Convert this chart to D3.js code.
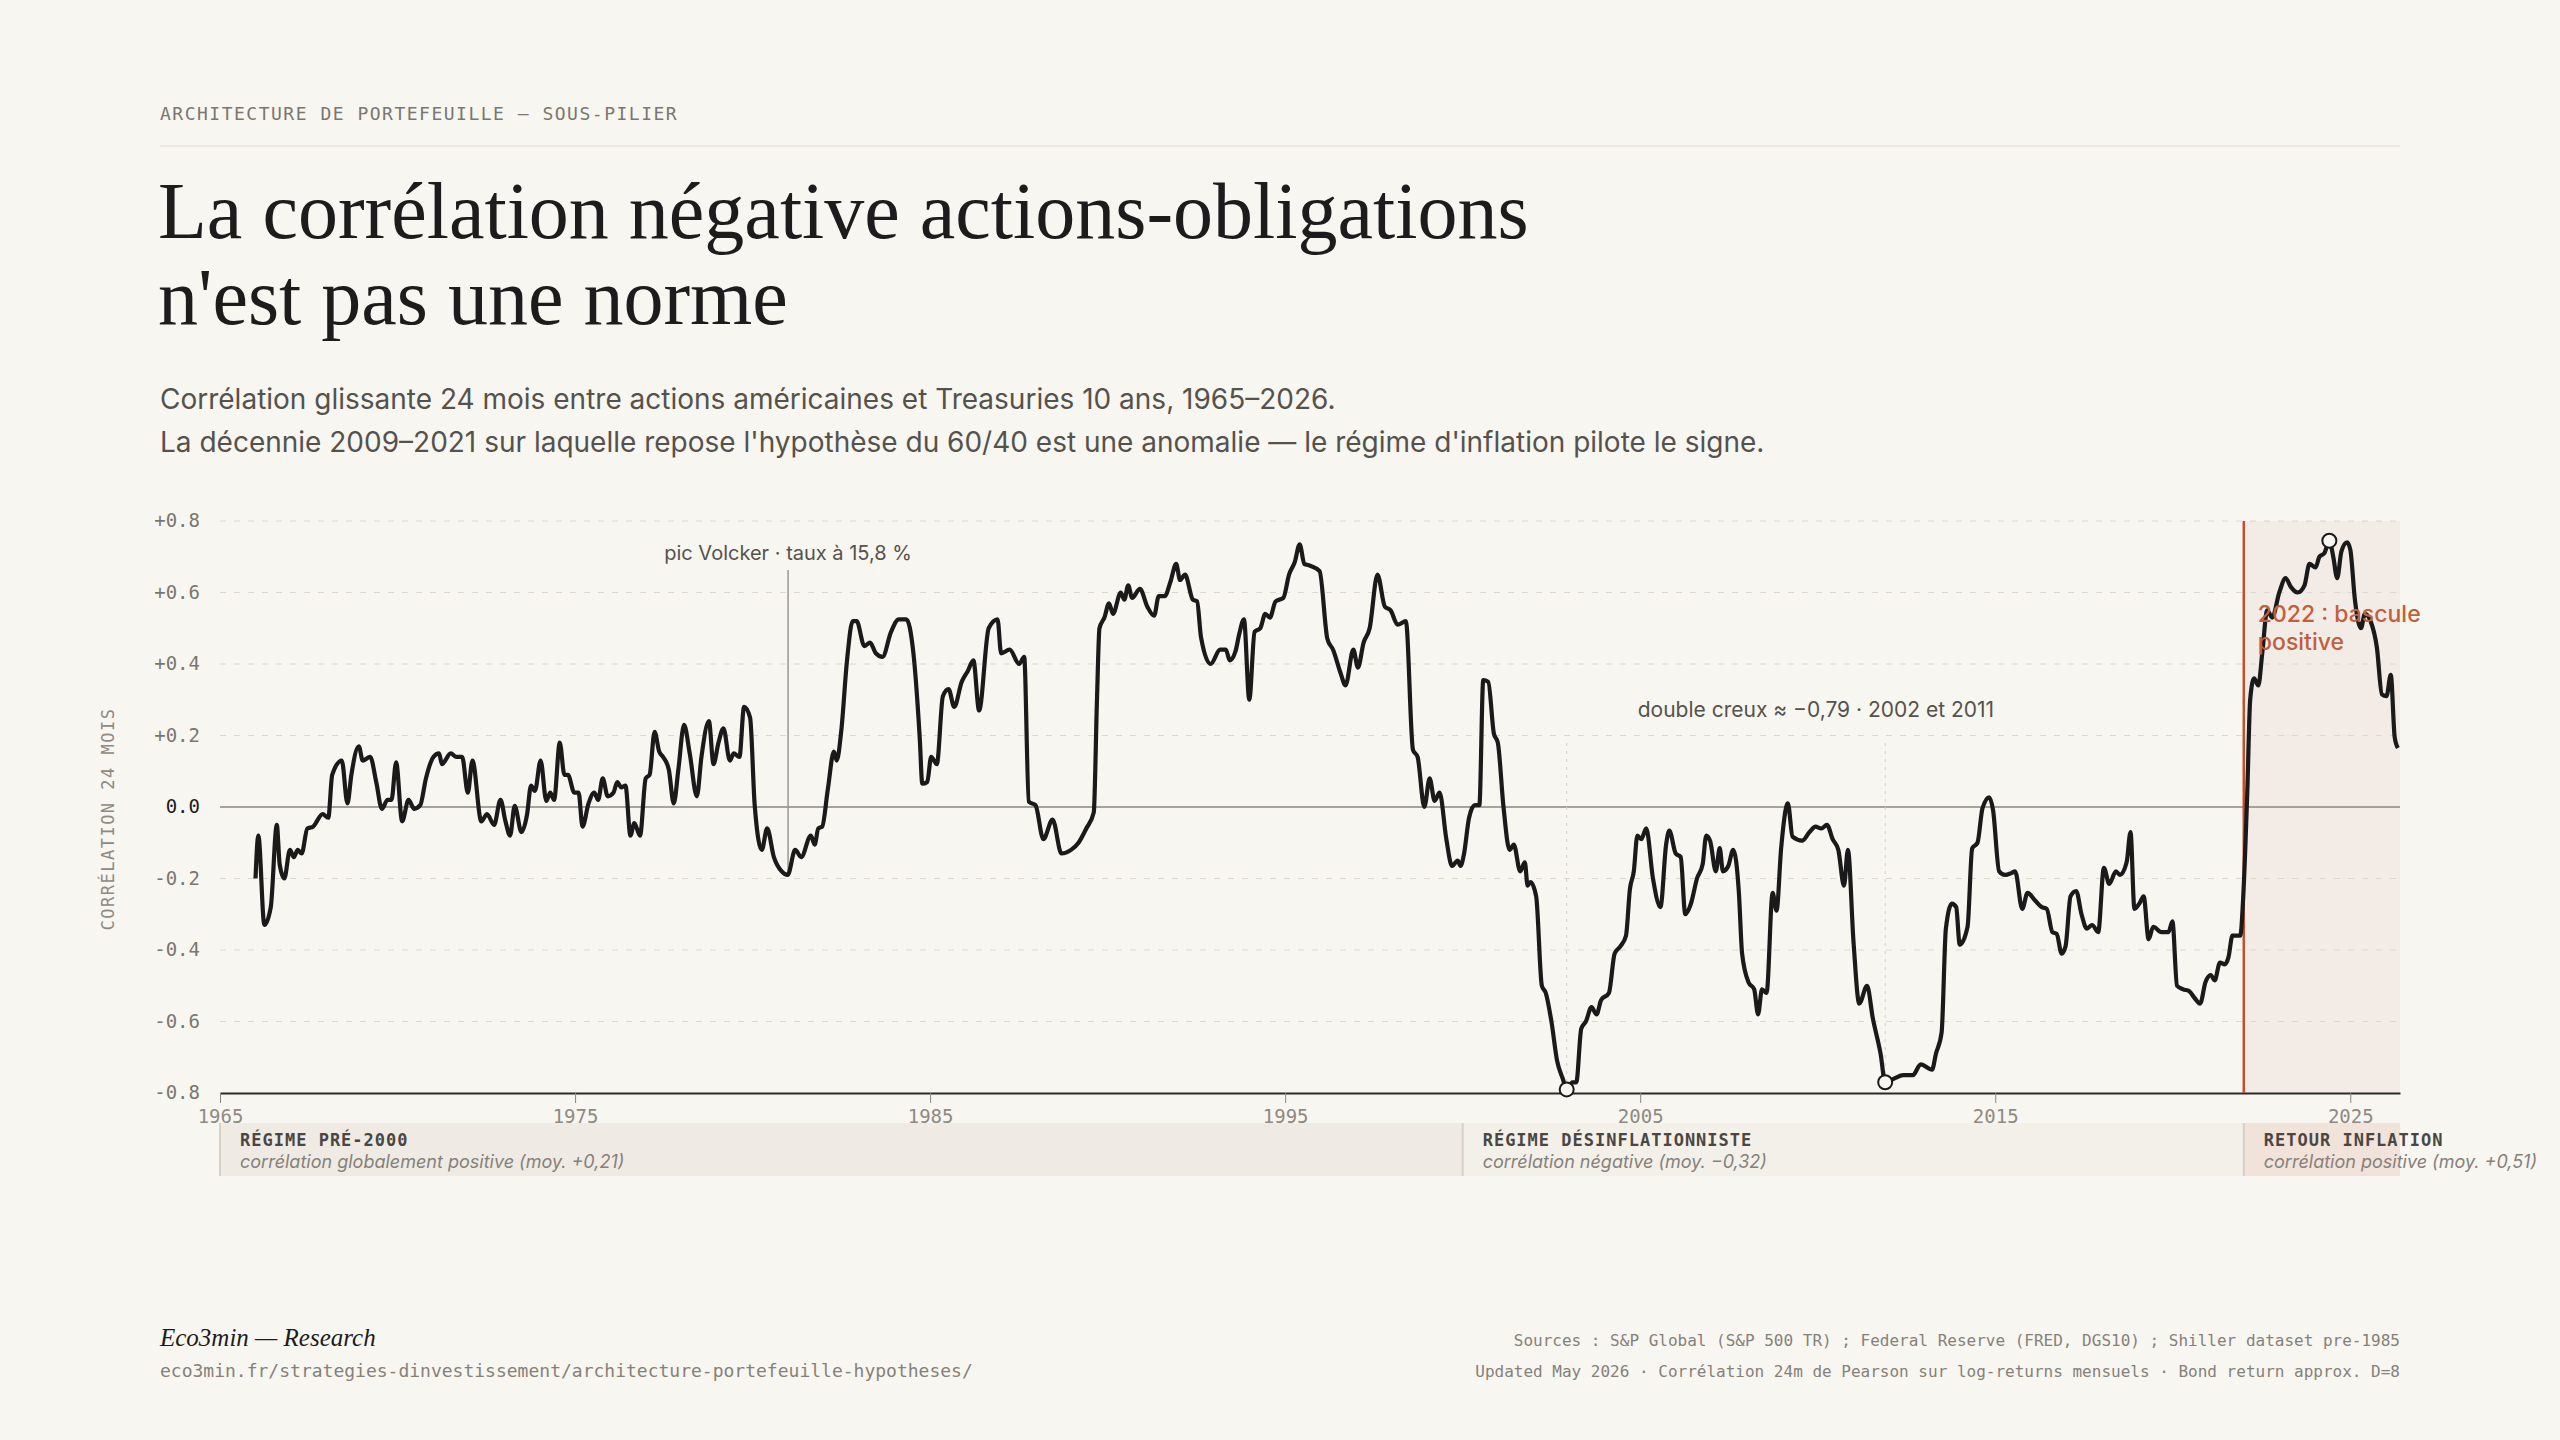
<!DOCTYPE html>
<html lang="fr">
<head>
<meta charset="UTF-8">
<title>Corrélation actions-obligations</title>
<script src="https://d3js.org/d3.v7.min.js"></script>
<style>
  html, body { margin: 0; padding: 0; background: #f8f6f0; }
  svg { display: block; }
</style>
</head>
<body>
<svg id="chart" width="2560" height="1440"></svg>
<script>
// Series (year, 24m rolling correlation)
const corr = [
  [1966.0,-0.20],[1966.08,-0.08],[1966.25,-0.33],[1966.43,-0.28],[1966.6,-0.05],[1966.68,-0.16],[1966.81,-0.20],
  [1966.97,-0.12],[1967.08,-0.14],[1967.19,-0.12],[1967.3,-0.13],[1967.46,-0.06],[1967.62,-0.055],[1967.89,-0.02],
  [1968.05,-0.03],[1968.16,0.09],[1968.43,0.13],[1968.59,0.01],[1968.7,0.09],[1968.91,0.17],[1969.02,0.13],
  [1969.23,0.14],[1969.4,0.07],[1969.56,-0.005],[1969.72,0.02],[1969.83,0.02],[1969.96,0.125],[1970.13,-0.04],
  [1970.31,0.02],[1970.47,-0.005],[1970.64,0.005],[1970.8,0.08],[1971.01,0.14],[1971.17,0.15],[1971.25,0.12],
  [1971.5,0.15],[1971.66,0.14],[1971.82,0.14],[1971.98,0.04],[1972.11,0.13],[1972.36,-0.04],[1972.52,-0.02],
  [1972.72,-0.05],[1972.9,0.02],[1973.04,-0.04],[1973.17,-0.08],[1973.3,0.003],[1973.49,-0.07],[1973.65,-0.02],
  [1973.76,0.06],[1973.87,0.045],[1974.03,0.13],[1974.19,0.017],[1974.3,0.04],[1974.41,0.02],[1974.57,0.18],
  [1974.7,0.09],[1974.8,0.09],[1974.98,0.04],[1975.1,0.04],[1975.21,-0.055],[1975.38,0.01],[1975.54,0.04],
  [1975.65,0.02],[1975.78,0.08],[1975.92,0.03],[1976.08,0.04],[1976.19,0.07],[1976.3,0.055],[1976.42,0.06],
  [1976.56,-0.08],[1976.67,-0.045],[1976.83,-0.08],[1976.99,0.08],[1977.1,0.09],[1977.24,0.21],[1977.37,0.155],
  [1977.48,0.14],[1977.64,0.105],[1977.78,0.01],[1977.91,0.105],[1978.07,0.23],[1978.23,0.15],[1978.43,0.03],
  [1978.56,0.14],[1978.77,0.24],[1978.9,0.12],[1979.04,0.18],[1979.18,0.22],[1979.36,0.13],[1979.47,0.15],
  [1979.63,0.14],[1979.76,0.28],[1979.93,0.25],[1980.06,0.005],[1980.26,-0.12],[1980.41,-0.06],[1980.6,-0.14],
  [1980.82,-0.18],[1980.99,-0.19],[1981.2,-0.12],[1981.37,-0.14],[1981.64,-0.08],[1981.75,-0.105],[1981.85,-0.06],
  [1981.96,-0.055],[1982.12,0.05],[1982.29,0.155],[1982.37,0.13],[1982.5,0.215],[1982.66,0.41],[1982.82,0.52],
  [1982.93,0.52],[1983.15,0.45],[1983.31,0.46],[1983.47,0.43],[1983.66,0.42],[1983.9,0.49],[1984.12,0.525],
  [1984.33,0.525],[1984.53,0.43],[1984.71,0.19],[1984.78,0.065],[1984.92,0.07],[1985.03,0.14],[1985.19,0.12],
  [1985.36,0.31],[1985.52,0.33],[1985.68,0.28],[1985.89,0.35],[1986.06,0.38],[1986.22,0.41],[1986.38,0.27],
  [1986.65,0.50],[1986.9,0.525],[1987.0,0.43],[1987.24,0.44],[1987.51,0.40],[1987.65,0.42],[1987.78,0.015],
  [1987.97,0.005],[1988.19,-0.09],[1988.45,-0.035],[1988.7,-0.13],[1988.97,-0.12],[1989.18,-0.10],[1989.4,-0.06],
  [1989.61,-0.015],[1989.7,0.30],[1989.77,0.50],[1989.91,0.53],[1990.04,0.57],[1990.15,0.54],[1990.37,0.60],
  [1990.47,0.58],[1990.58,0.62],[1990.69,0.585],[1990.91,0.61],[1991.12,0.56],[1991.31,0.535],[1991.44,0.59],
  [1991.61,0.59],[1991.77,0.63],[1991.93,0.68],[1992.04,0.635],[1992.18,0.65],[1992.4,0.58],[1992.52,0.575],
  [1992.63,0.475],[1992.9,0.40],[1993.17,0.44],[1993.33,0.44],[1993.44,0.41],[1993.6,0.435],[1993.71,0.485],
  [1993.84,0.525],[1993.99,0.30],[1994.14,0.49],[1994.3,0.50],[1994.44,0.54],[1994.57,0.53],[1994.73,0.575],
  [1994.95,0.585],[1995.11,0.65],[1995.27,0.685],[1995.41,0.735],[1995.54,0.68],[1995.7,0.675],[1995.97,0.66],
  [1996.19,0.47],[1996.35,0.44],[1996.56,0.375],[1996.7,0.34],[1996.92,0.44],[1997.05,0.39],[1997.21,0.46],
  [1997.38,0.50],[1997.6,0.65],[1997.81,0.56],[1997.97,0.55],[1998.17,0.51],[1998.4,0.52],[1998.6,0.16],
  [1998.73,0.14],[1998.92,0.0],[1999.07,0.08],[1999.21,0.017],[1999.35,0.04],[1999.54,-0.09],[1999.7,-0.165],
  [1999.86,-0.15],[1999.94,-0.165],[2000.04,-0.13],[2000.18,-0.03],[2000.34,0.005],[2000.47,0.005],[2000.58,0.355],
  [2000.72,0.35],[2000.88,0.205],[2000.99,0.18],[2001.15,0.0],[2001.32,-0.12],[2001.44,-0.105],[2001.62,-0.18],
  [2001.75,-0.155],[2001.83,-0.22],[2001.91,-0.21],[2002.07,-0.25],[2002.23,-0.50],[2002.34,-0.52],[2002.5,-0.60],
  [2002.66,-0.71],[2002.82,-0.76],[2002.93,-0.79],[2003.09,-0.77],[2003.2,-0.77],[2003.34,-0.62],[2003.47,-0.60],
  [2003.63,-0.56],[2003.77,-0.58],[2003.9,-0.54],[2004.12,-0.52],[2004.28,-0.41],[2004.44,-0.39],[2004.6,-0.36],
  [2004.71,-0.23],[2004.82,-0.18],[2004.92,-0.08],[2005.03,-0.09],[2005.17,-0.06],[2005.36,-0.20],[2005.57,-0.28],
  [2005.73,-0.105],[2005.82,-0.066],[2006.0,-0.13],[2006.14,-0.14],[2006.27,-0.30],[2006.43,-0.27],[2006.6,-0.20],
  [2006.76,-0.16],[2006.86,-0.08],[2006.97,-0.095],[2007.13,-0.18],[2007.24,-0.115],[2007.33,-0.18],[2007.48,-0.165],
  [2007.62,-0.12],[2007.78,-0.24],[2007.87,-0.41],[2008.05,-0.49],[2008.21,-0.51],[2008.32,-0.58],[2008.43,-0.51],
  [2008.56,-0.52],[2008.73,-0.24],[2008.84,-0.29],[2008.97,-0.115],[2009.16,0.01],[2009.29,-0.083],[2009.56,-0.094],
  [2009.77,-0.07],[2009.94,-0.055],[2010.1,-0.06],[2010.26,-0.05],[2010.42,-0.09],[2010.58,-0.12],[2010.74,-0.22],
  [2010.85,-0.12],[2011.01,-0.38],[2011.17,-0.55],[2011.39,-0.50],[2011.55,-0.59],[2011.77,-0.69],[2011.9,-0.77],
  [2012.14,-0.76],[2012.41,-0.75],[2012.68,-0.75],[2012.9,-0.72],[2013.22,-0.735],[2013.33,-0.69],[2013.49,-0.63],
  [2013.61,-0.34],[2013.78,-0.27],[2013.9,-0.28],[2014.0,-0.385],[2014.22,-0.335],[2014.35,-0.116],[2014.5,-0.10],
  [2014.64,-0.004],[2014.83,0.027],[2014.94,-0.01],[2015.11,-0.18],[2015.28,-0.19],[2015.45,-0.185],[2015.56,-0.18],
  [2015.76,-0.285],[2015.91,-0.24],[2016.11,-0.26],[2016.31,-0.28],[2016.45,-0.285],[2016.61,-0.35],[2016.73,-0.355],
  [2016.87,-0.41],[2016.98,-0.39],[2017.12,-0.25],[2017.28,-0.235],[2017.43,-0.30],[2017.58,-0.34],[2017.73,-0.33],
  [2017.9,-0.35],[2018.06,-0.17],[2018.21,-0.215],[2018.4,-0.18],[2018.51,-0.19],[2018.7,-0.155],[2018.81,-0.07],
  [2018.92,-0.285],[2019.06,-0.27],[2019.18,-0.25],[2019.32,-0.37],[2019.45,-0.335],[2019.68,-0.35],[2019.88,-0.35],
  [2019.99,-0.32],[2020.12,-0.50],[2020.29,-0.51],[2020.46,-0.515],[2020.62,-0.535],[2020.77,-0.55],[2020.92,-0.49],
  [2021.07,-0.47],[2021.18,-0.485],[2021.33,-0.435],[2021.46,-0.44],[2021.57,-0.42],[2021.68,-0.36],[2021.9,-0.36],
  [2021.99,-0.24],[2022.1,0.046],[2022.18,0.30],[2022.29,0.36],[2022.41,0.34],[2022.52,0.43],[2022.66,0.55],
  [2022.8,0.53],[2023.0,0.60],[2023.18,0.64],[2023.33,0.615],[2023.52,0.60],[2023.71,0.62],[2023.85,0.68],
  [2024.02,0.67],[2024.13,0.70],[2024.27,0.71],[2024.41,0.745],[2024.52,0.70],[2024.63,0.64],[2024.75,0.715],
  [2024.91,0.74],[2025.0,0.72],[2025.13,0.58],[2025.3,0.50],[2025.41,0.54],[2025.57,0.52],[2025.75,0.445],
  [2025.89,0.315],[2026.02,0.31],[2026.14,0.37],[2026.25,0.196],[2026.34,0.165]
];
const markers = [[2002.93,-0.79],[2011.9,-0.77],[2024.41,0.745]];
const yTicks = [-0.8,-0.6,-0.4,-0.2,0,0.2,0.4,0.6,0.8];
const xTicks = [1965,1975,1985,1995,2005,2015,2025];
const regimes = [
  {from:1965, to:2000, name:"RÉGIME PRÉ-2000", sub:"corrélation globalement positive (moy. +0,21)", fill:"#efebe4"},
  {from:2000, to:2022, name:"RÉGIME DÉSINFLATIONNISTE", sub:"corrélation négative (moy. −0,32)", fill:"#f3f0ea"},
  {from:2022, to:2026.4, name:"RETOUR INFLATION", sub:"corrélation positive (moy. +0,51)", fill:"#f1e2da"}
];

const W = 2560;
const margin = {left:220, right:160, top:521, bottom:347};
const svg = d3.select("#chart");
const mono = "'DejaVu Sans Mono', 'Liberation Mono', monospace";
const sans = "Inter, 'Noto Sans', sans-serif";
const serif = "'Liberation Serif', 'DejaVu Serif', serif";

const x = d3.scaleLinear().domain([1965, 2026.4]).range([margin.left, W - margin.right]);
const y = d3.scaleLinear().domain([-0.8, 0.8]).range([1093, margin.top]);

// header
svg.append("text").attr("x",160).attr("y",120).attr("font-family",mono).attr("font-size",18)
  .attr("letter-spacing",1.5).attr("fill","#7a7670").text("ARCHITECTURE DE PORTEFEUILLE — SOUS-PILIER");
svg.append("line").attr("x1",160).attr("x2",2400).attr("y1",146).attr("y2",146).attr("stroke","#dedad2");
["La corrélation négative actions-obligations","n'est pas une norme"].forEach((t,i) =>
  svg.append("text").attr("x",158).attr("y",238+i*86).attr("font-family",serif).attr("font-size",80)
    .attr("fill","#1c1c1c").text(t));
["Corrélation glissante 24 mois entre actions américaines et Treasuries 10 ans, 1965–2026.",
 "La décennie 2009–2021 sur laquelle repose l'hypothèse du 60/40 est une anomalie — le régime d'inflation pilote le signe."]
  .forEach((t,i) => svg.append("text").attr("x",160).attr("y",409+i*43).attr("font-family",sans)
    .attr("font-size",28).attr("fill","#55524d").text(t));

// inflation shading
svg.append("rect").attr("x",x(2022)).attr("y",margin.top).attr("width",x(2026.4)-x(2022))
  .attr("height",y(-0.8)-margin.top).attr("fill","#f3ebe5");

// grid
svg.append("g").selectAll("line").data(yTicks.filter(d => d !== 0 && d !== -0.8)).join("line")
  .attr("x1",x(1965)).attr("x2",x(2026.4)).attr("y1",d=>y(d)).attr("y2",d=>y(d))
  .attr("stroke","#dcd8d0").attr("stroke-dasharray","6,8");
svg.append("line").attr("x1",x(1965)).attr("x2",x(2026.4)).attr("y1",y(0)).attr("y2",y(0))
  .attr("stroke","#8a8780").attr("stroke-width",1.5);

// y labels
svg.append("g").selectAll("text").data(yTicks).join("text")
  .attr("x",200).attr("y",d=>y(d)+6).attr("text-anchor","end").attr("font-family",mono).attr("font-size",19)
  .attr("fill",d => d===0 ? "#1c1c1c" : "#7a7670")
  .text(d => d===0 ? "0.0" : (d>0?"+":"-") + Math.abs(d).toFixed(1));
svg.append("text").attr("transform",`translate(114,${y(0)+12}) rotate(-90)`).attr("text-anchor","middle")
  .attr("font-family",mono).attr("font-size",17).attr("letter-spacing",1.5).attr("fill","#8e8a83")
  .text("CORRÉLATION 24 MOIS");

// x axis
const xAxis = svg.append("g").attr("transform",`translate(0,${y(-0.8)})`)
  .call(d3.axisBottom(x).tickValues(xTicks).tickFormat(d3.format("d")).tickSize(10).tickSizeOuter(0));
xAxis.select(".domain").attr("stroke","#2a2a2a").attr("stroke-width",2);
xAxis.selectAll(".tick line").attr("stroke","#8a8780");
xAxis.selectAll(".tick text").attr("font-family",mono).attr("font-size",19).attr("fill","#8e8a83").attr("dy","0.9em");

// regime bands
const rg = svg.append("g").selectAll("g").data(regimes).join("g");
rg.append("rect").attr("x",d=>x(d.from)).attr("y",1123).attr("width",d=>x(d.to)-x(d.from)).attr("height",53)
  .attr("fill",d=>d.fill);
rg.append("line").attr("x1",d=>x(d.from)).attr("x2",d=>x(d.from)).attr("y1",1123).attr("y2",1176)
  .attr("stroke","#d6d0c6").attr("stroke-width",2);
rg.append("text").attr("x",d=>x(d.from)+20).attr("y",1146).attr("font-family",mono).attr("font-size",17)
  .attr("font-weight","bold").attr("letter-spacing",1).attr("fill","#4a4742").text(d=>d.name);
rg.append("text").attr("x",d=>x(d.from)+20).attr("y",1168).attr("font-family",sans).attr("font-size",18)
  .attr("font-style","italic").attr("fill","#85817a").text(d=>d.sub);

// annotations
svg.append("line").attr("x1",x(1981)).attr("x2",x(1981)).attr("y1",570).attr("y2",y(-0.19))
  .attr("stroke","#9a9791").attr("stroke-width",1.5);
svg.append("text").attr("x",x(1981)).attr("y",560).attr("text-anchor","middle").attr("font-family",sans)
  .attr("font-size",20).attr("fill","#55524d").text("pic Volcker · taux à 15,8 %");
svg.append("g").selectAll("line").data(markers.slice(0,2)).join("line")
  .attr("x1",d=>x(d[0])).attr("x2",d=>x(d[0])).attr("y1",743).attr("y2",d=>y(d[1]))
  .attr("stroke","#d3cfc7").attr("stroke-dasharray","3,5");
svg.append("text").attr("x",(x(2002.93)+x(2011.9))/2 + 90).attr("y",717).attr("text-anchor","middle")
  .attr("font-family",sans).attr("font-size",21).attr("fill","#55524d").text("double creux ≈ −0,79 · 2002 et 2011");

// 2022 marker
svg.append("line").attr("x1",x(2022)).attr("x2",x(2022)).attr("y1",margin.top).attr("y2",y(-0.8))
  .attr("stroke","#c0502e").attr("stroke-width",2.5);

// line
const line = d3.line().x(d=>x(d[0])).y(d=>y(d[1])).curve(d3.curveMonotoneX);
svg.append("path").datum(corr).attr("d",line).attr("fill","none").attr("stroke","#1a1a1a")
  .attr("stroke-width",4.2).attr("stroke-linejoin","round");

svg.append("g").selectAll("circle").data(markers).join("circle")
  .attr("cx",d=>x(d[0])).attr("cy",d=>y(d[1])).attr("r",7).attr("fill","#f8f6f0")
  .attr("stroke","#1a1a1a").attr("stroke-width",2);

["2022 : bascule","positive"].forEach((t,i) =>
  svg.append("text").attr("x",x(2022)+14).attr("y",622+i*28).attr("font-family",sans).attr("font-size",23)
    .attr("font-weight",500).attr("fill","#c0603c").text(t));

// footer
svg.append("text").attr("x",160).attr("y",1346).attr("font-family",serif).attr("font-size",25)
  .attr("font-style","italic").attr("fill","#1c1c1c").text("Eco3min — Research");
svg.append("text").attr("x",160).attr("y",1377).attr("font-family",mono).attr("font-size",18)
  .attr("fill","#85817a").text("eco3min.fr/strategies-dinvestissement/architecture-portefeuille-hypotheses/");
svg.append("text").attr("x",2400).attr("y",1346).attr("text-anchor","end").attr("font-family",mono).attr("font-size",16)
  .attr("fill","#85817a").text("Sources : S&P Global (S&P 500 TR) ; Federal Reserve (FRED, DGS10) ; Shiller dataset pre-1985");
svg.append("text").attr("x",2400).attr("y",1377).attr("text-anchor","end").attr("font-family",mono).attr("font-size",16)
  .attr("fill","#85817a").text("Updated May 2026 · Corrélation 24m de Pearson sur log-returns mensuels · Bond return approx. D=8");
</script>
</body>
</html>
